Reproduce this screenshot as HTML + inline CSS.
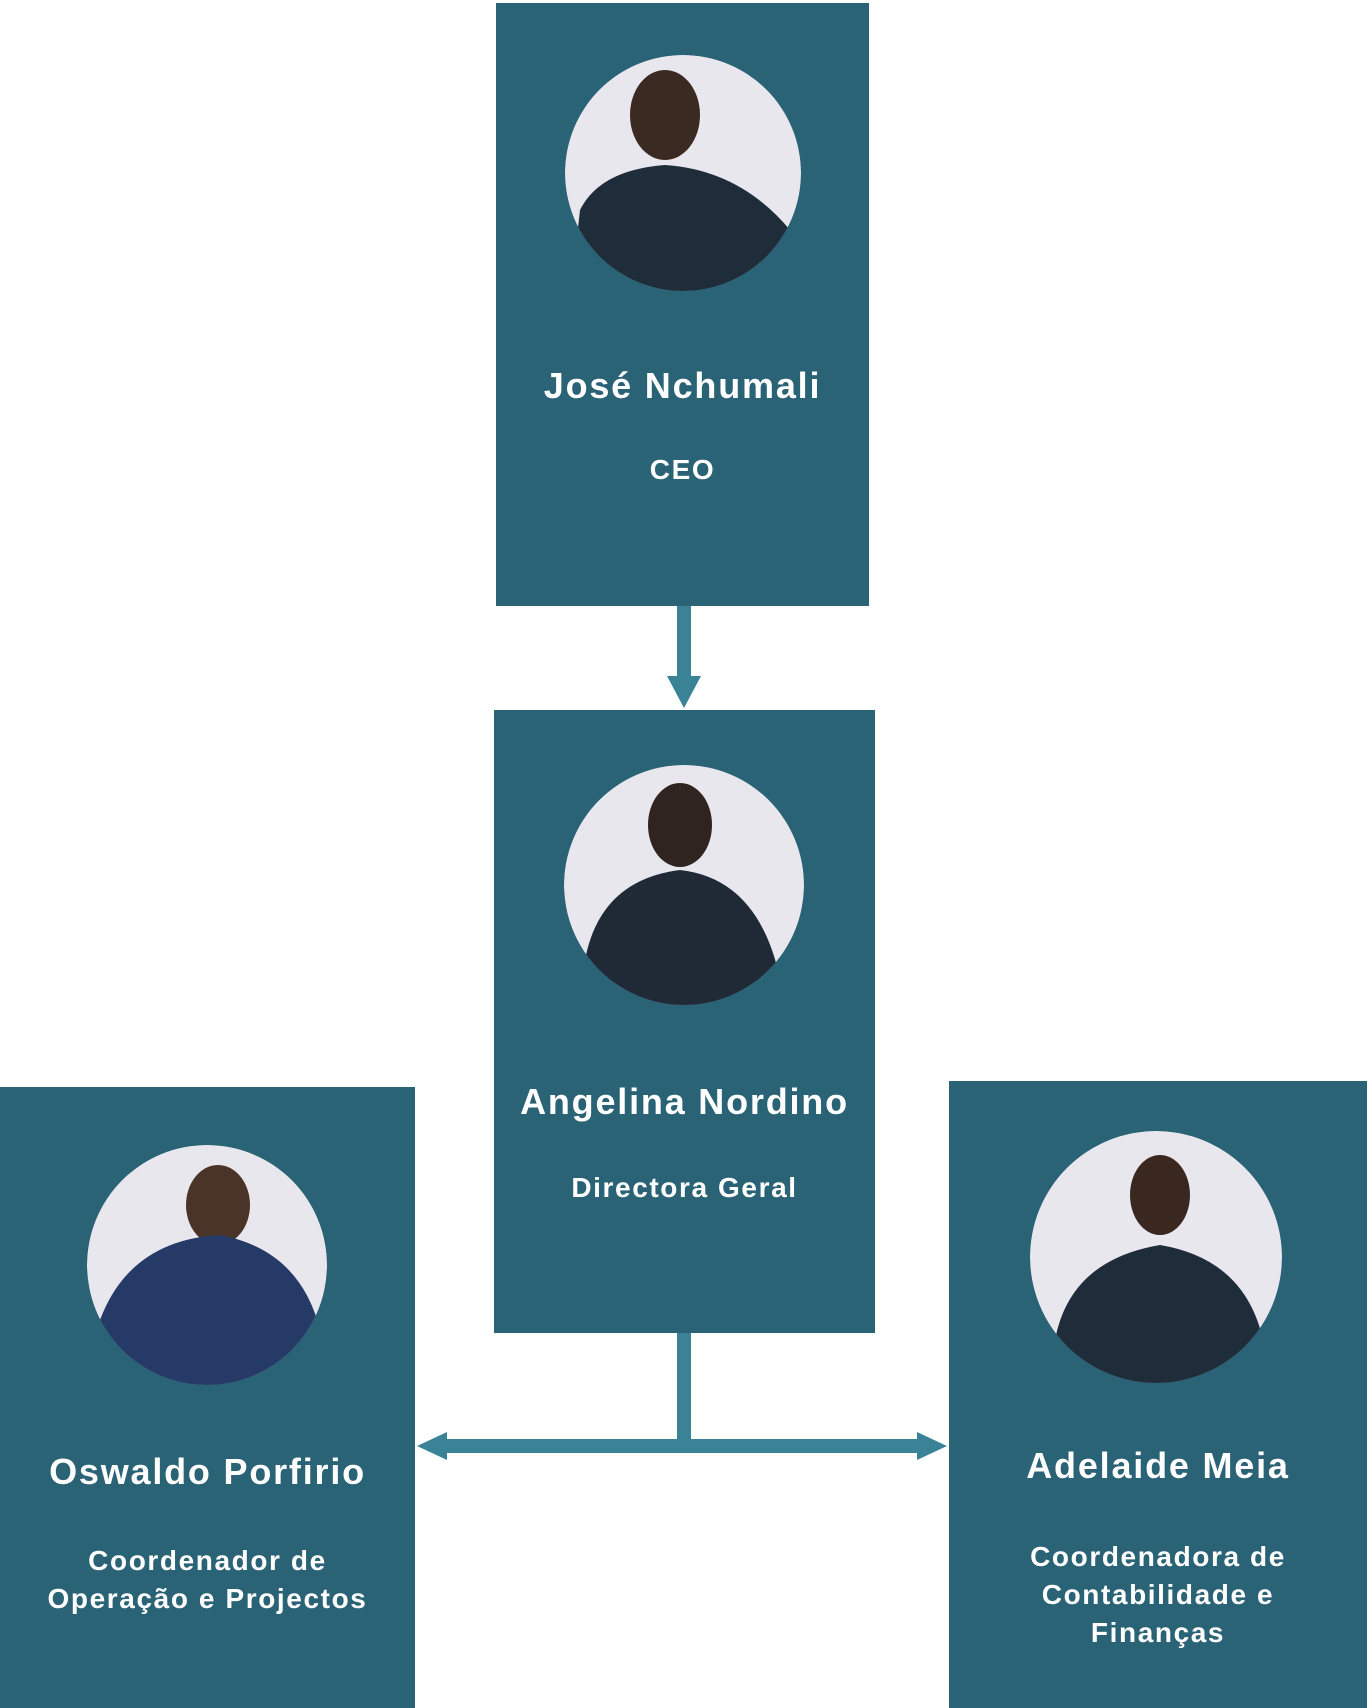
<!DOCTYPE html>
<html><head><meta charset="utf-8"><style>
html,body{margin:0;padding:0;background:#fff;}
body{width:1369px;height:1708px;position:relative;overflow:hidden;font-family:"Liberation Sans",sans-serif;}
.box{position:absolute;background:#2a6376;}
.t{position:absolute;color:#fff;font-weight:bold;text-align:center;white-space:nowrap;}
.n{font-size:36px;letter-spacing:1.8px;}
.s{font-size:28px;line-height:38px;letter-spacing:1.6px;}
svg{position:absolute;left:0;top:0;}
</style></head><body>
<div class="box" style="left:496px;top:3px;width:373px;height:603px"></div>
<div class="box" style="left:494px;top:710px;width:381px;height:623px"></div>
<div class="box" style="left:0;top:1087px;width:415px;height:621px"></div>
<div class="box" style="left:949px;top:1081px;width:418px;height:627px"></div>
<svg width="1369" height="1708">
<defs>
<clipPath id="c1"><circle cx="683" cy="173" r="118"/></clipPath>
<clipPath id="c2"><circle cx="684" cy="885" r="120"/></clipPath>
<clipPath id="c3"><circle cx="207" cy="1265" r="120"/></clipPath>
<clipPath id="c4"><circle cx="1156" cy="1257" r="126"/></clipPath>
</defs>
<g clip-path="url(#c1)"><circle cx="683" cy="173" r="118" fill="#e9e7ee"/>
<ellipse cx="665" cy="115" rx="35" ry="45" fill="#3a2a22"/>
<path d="M580 210 Q600 170 665 165 Q740 170 790 230 L790 300 L570 300Z" fill="#1f2d3a"/></g>
<g clip-path="url(#c2)"><circle cx="684" cy="885" r="120" fill="#e9e7ee"/>
<ellipse cx="680" cy="825" rx="32" ry="42" fill="#2f2420"/>
<path d="M585 960 Q600 880 680 870 Q770 880 785 1010 L580 1010Z" fill="#1f2a36"/></g>
<g clip-path="url(#c3)"><circle cx="207" cy="1265" r="120" fill="#e9e7ee"/>
<ellipse cx="218" cy="1205" rx="32" ry="40" fill="#4a3428"/>
<path d="M100 1320 Q130 1240 220 1235 Q300 1250 320 1330 L320 1390 L90 1390Z" fill="#253a66"/></g>
<g clip-path="url(#c4)"><circle cx="1156" cy="1257" r="126" fill="#e9e7ee"/>
<ellipse cx="1160" cy="1195" rx="30" ry="40" fill="#3a2820"/>
<path d="M1055 1340 Q1070 1260 1160 1245 Q1250 1260 1265 1350 L1265 1390 L1050 1390Z" fill="#1f2d3a"/></g>
<g fill="#3a8397" stroke="none">
<rect x="677" y="606" width="14" height="74"/>
<polygon points="667,676 701,676 684,708"/>
<rect x="677" y="1333" width="14" height="113"/>
<rect x="440" y="1439" width="486" height="14"/>
<polygon points="417,1446 447,1432 447,1460"/>
<polygon points="947,1446 917,1432 917,1460"/>
</g>
</svg>
<div class="t n" style="left:496px;width:373px;top:365px">José Nchumali</div>
<div class="t s" style="left:496px;width:373px;top:451px">CEO</div>
<div class="t n" style="left:494px;width:381px;top:1081px">Angelina Nordino</div>
<div class="t s" style="left:494px;width:381px;top:1169px">Directora Geral</div>
<div class="t n" style="left:0;width:415px;top:1451px">Oswaldo Porfirio</div>
<div class="t s" style="left:0;width:415px;top:1542px">Coordenador de<br>Operação e Projectos</div>
<div class="t n" style="left:949px;width:418px;top:1445px">Adelaide Meia</div>
<div class="t s" style="left:949px;width:418px;top:1538px">Coordenadora de<br>Contabilidade e<br>Finanças</div>
</body></html>
